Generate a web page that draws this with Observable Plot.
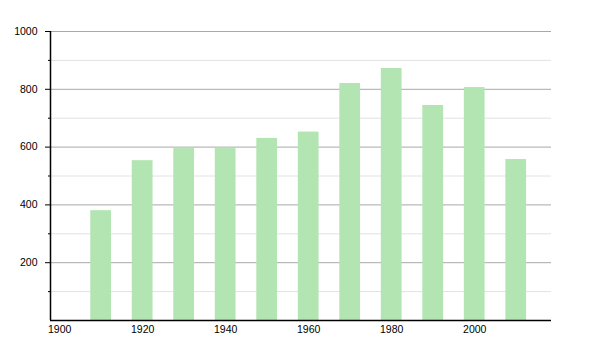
<!DOCTYPE html>
<html>
<head>
<meta charset="utf-8">
<script src="https://cdn.jsdelivr.net/npm/d3@7"></script>
<script src="https://cdn.jsdelivr.net/npm/@observablehq/plot@0.6"></script>
<style>
  html, body { margin: 0; padding: 0; background: #fff; }
  svg { font-family: "Liberation Sans", Arial, Helvetica, sans-serif; }
</style>
</head>
<body>
<div id="chart"></div>
<script>
const years = [1910, 1920, 1930, 1940, 1950, 1960, 1970, 1980, 1990, 2000, 2010];
const values = [380, 553, 595, 595, 630, 652, 820, 872, 744, 806, 557];
const xTicks = [1900, 1920, 1940, 1960, 1980, 2000];
const yMajor = [200, 400, 600, 800, 1000];
const yMinor = [100, 300, 500, 700, 900];

const data = years.map((year, i) => ({year, value: values[i]}));

const chart = Plot.plot({
  width: 600,
  height: 350,
  marginLeft: 50,
  marginRight: 49,
  marginTop: 31,
  marginBottom: 30,
  style: {fontSize: "10.5px", color: "#000", background: "#fff"},
  x: {domain: [1897.8, 2018.5]},
  y: {domain: [0, 1000]},
  marks: [
    Plot.ruleY(yMinor, {stroke: "#e2e2e2", strokeWidth: 1}),
    Plot.ruleY(yMajor, {stroke: "#a8a8a8", strokeWidth: 1}),
    Plot.rectY(data, {x1: d => d.year - 2.5, x2: d => d.year + 2.5, y: "value", fill: "#b3e5b3"}),
    Plot.axisY(yMajor, {tickSize: 5, tickPadding: 8, tickFormat: d => String(d), label: null, stroke: "#000", fill: "#000"}),
    Plot.axisY(yMinor, {tickSize: 2, tickFormat: () => "", label: null, stroke: "#000"}),
    Plot.axisX(xTicks, {tickSize: 0, tickPadding: 5, tickFormat: d => String(d), label: null, fill: "#000"}),
    Plot.ruleX([1897.8], {stroke: "#000", strokeWidth: 1.5}),
    Plot.ruleY([0], {stroke: "#000", strokeWidth: 1.5})
  ]
});
document.getElementById("chart").appendChild(chart);
</script>
</body>
</html>
